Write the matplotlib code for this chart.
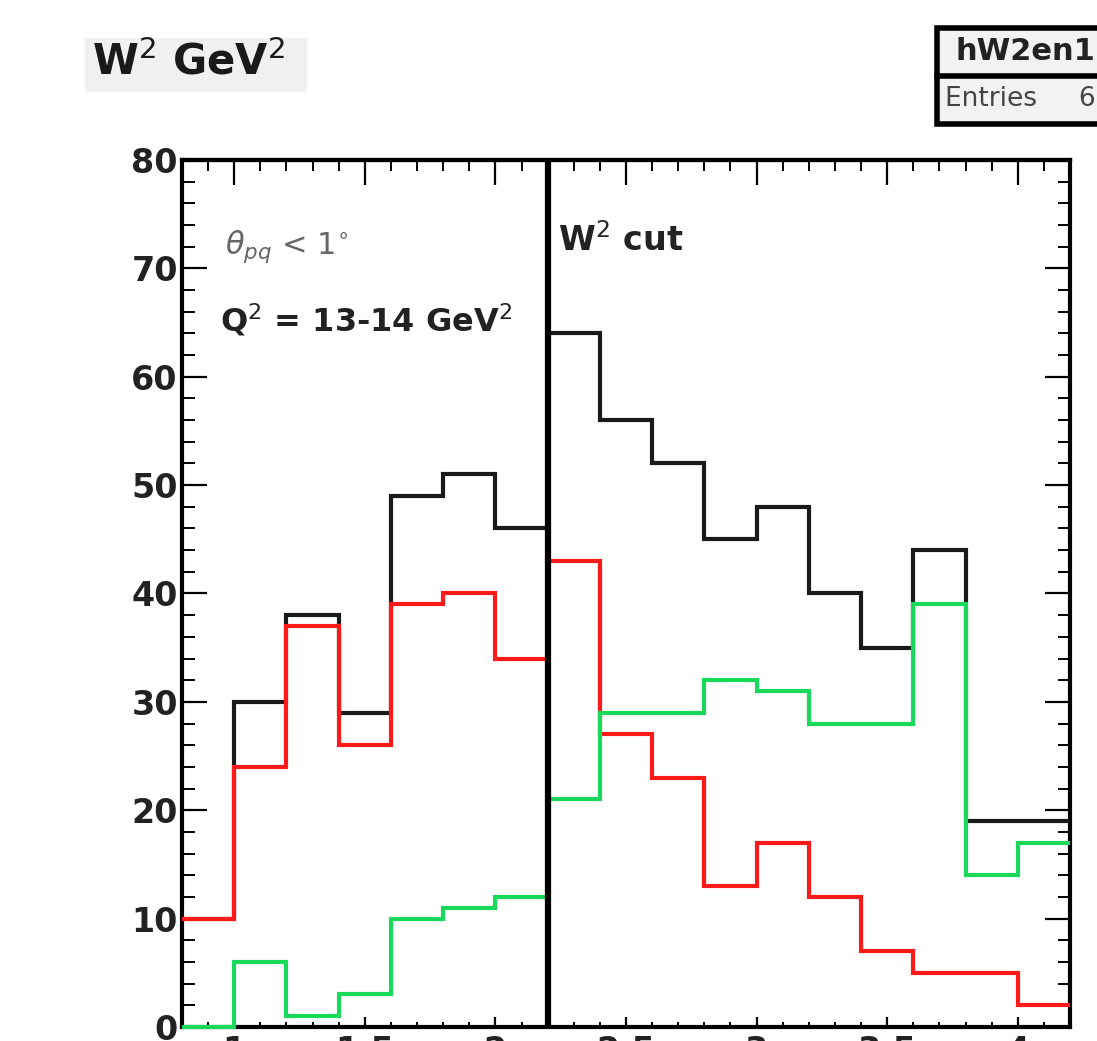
import numpy as np
import matplotlib.pyplot as plt
from matplotlib.patches import Rectangle
from matplotlib.ticker import MultipleLocator

plt.rcParams['font.family'] = ['DejaVu Sans']

# W^2 bin edges (GeV^2) and bin contents
edges = [0.8, 1.0, 1.2, 1.4, 1.6, 1.8, 2.0, 2.2, 2.4, 2.6, 2.8, 3.0, 3.2, 3.4, 3.6, 3.8, 4.0, 4.2]
total = [10, 30, 38, 29, 49, 51, 46, 64, 56, 52, 45, 48, 40, 35, 44, 19, 19]
red_part = [10, 24, 37, 26, 39, 40, 34, 43, 27, 23, 13, 17, 12, 7, 5, 5, 2]
green_part = [0, 6, 1, 3, 10, 11, 12, 21, 29, 29, 32, 31, 28, 28, 39, 14, 17]
w2_cut = 2.2
xticks = [1, 1.5, 2, 2.5, 3, 3.5, 4]
xticklabels = ['1', '1.5', '2', '2.5', '3', '3.5', '4']
yticks = [0, 10, 20, 30, 40, 50, 60, 70, 80]

fig = plt.figure(figsize=(10.97, 10.41), dpi=100)
ax = fig.add_axes([0.1659, 0.01345, 0.8095, 0.8329])

ax.stairs(total, edges, baseline=None, color='#1a1a1a', lw=3, zorder=3)
ax.stairs(red_part, edges, baseline=None, color='#ff1a1a', lw=3, zorder=4)
ax.stairs(green_part, edges, baseline=None, color='#19d95a', lw=3, zorder=5, clip_on=False)
ax.axvline(w2_cut, color='black', lw=4.5, zorder=6)

ax.set_xlim(0.8, 4.2)
ax.set_ylim(0, 80)
ax.set_xticks(xticks)
ax.set_xticklabels(xticklabels)
ax.set_yticks(yticks)
ax.xaxis.set_minor_locator(MultipleLocator(0.1))
ax.yaxis.set_minor_locator(MultipleLocator(2))

ax.tick_params(axis='y', which='major', direction='in', length=18, width=1.6,
               right=True, labelsize=24, pad=3)
ax.tick_params(axis='y', which='minor', direction='in', length=9, width=1.4, right=True)
ax.tick_params(axis='x', which='major', direction='in', length=7, width=1.6,
               labelsize=24, pad=6)
ax.tick_params(axis='x', which='minor', direction='in', length=3.5, width=1.4)
for lab in ax.get_xticklabels() + ax.get_yticklabels():
    lab.set_fontweight('bold')
    lab.set_color('#222222')

top = ax.secondary_xaxis('top')
top.set_xticks(xticks)
top.xaxis.set_minor_locator(MultipleLocator(0.1))
top.tick_params(which='major', direction='in', length=18, width=1.6, labeltop=False)
top.tick_params(which='minor', direction='in', length=8, width=1.4)
top.spines['top'].set_linewidth(3)

for s in ax.spines.values():
    s.set_linewidth(3)
    s.set_color('black')

# text inside the frame
ax.text(0.965, 72.0, r'$\theta_{pq}$ < 1$^{\circ}$', fontsize=22, color='#666666', va='center')
ax.text(0.945, 65.2, r'Q$^2$ = 13-14 GeV$^2$', fontsize=23, fontweight='bold', color='#222222', va='center')
ax.text(2.24, 72.6, r'W$^2$ cut', fontsize=24, fontweight='bold', color='#222222', va='center')

# title box
fig.patches.append(Rectangle((85 / 1097, 1 - 92 / 1041), 222 / 1097, 54 / 1041,
                             transform=fig.transFigure, facecolor='#f0f0f0', edgecolor='none'))
fig.text(92 / 1097, 1 - 62 / 1041, r'W$^2$ GeV$^2$', fontsize=30, fontweight='bold',
         color='#1a1a1a', va='center')

# stats box (cut by the figure edge)
fig.patches.append(Rectangle((937 / 1097, 1 - 124 / 1041), 200 / 1097, 96 / 1041,
                             transform=fig.transFigure, facecolor='#f2f2f2',
                             edgecolor='black', lw=4))
fig.lines.append(plt.Line2D([937 / 1097, 1.05], [1 - 76 / 1041, 1 - 76 / 1041],
                            transform=fig.transFigure, color='black', lw=4))
fig.text(955 / 1097, 1 - 51 / 1041, 'hW2en1', fontsize=22, fontweight='bold',
         color='#222222', va='center')
fig.text(945 / 1097, 1 - 99 / 1041, 'Entries     675', fontsize=19,
         color='#444444', va='center')

fig.savefig('out.png', dpi=100, facecolor='white')
